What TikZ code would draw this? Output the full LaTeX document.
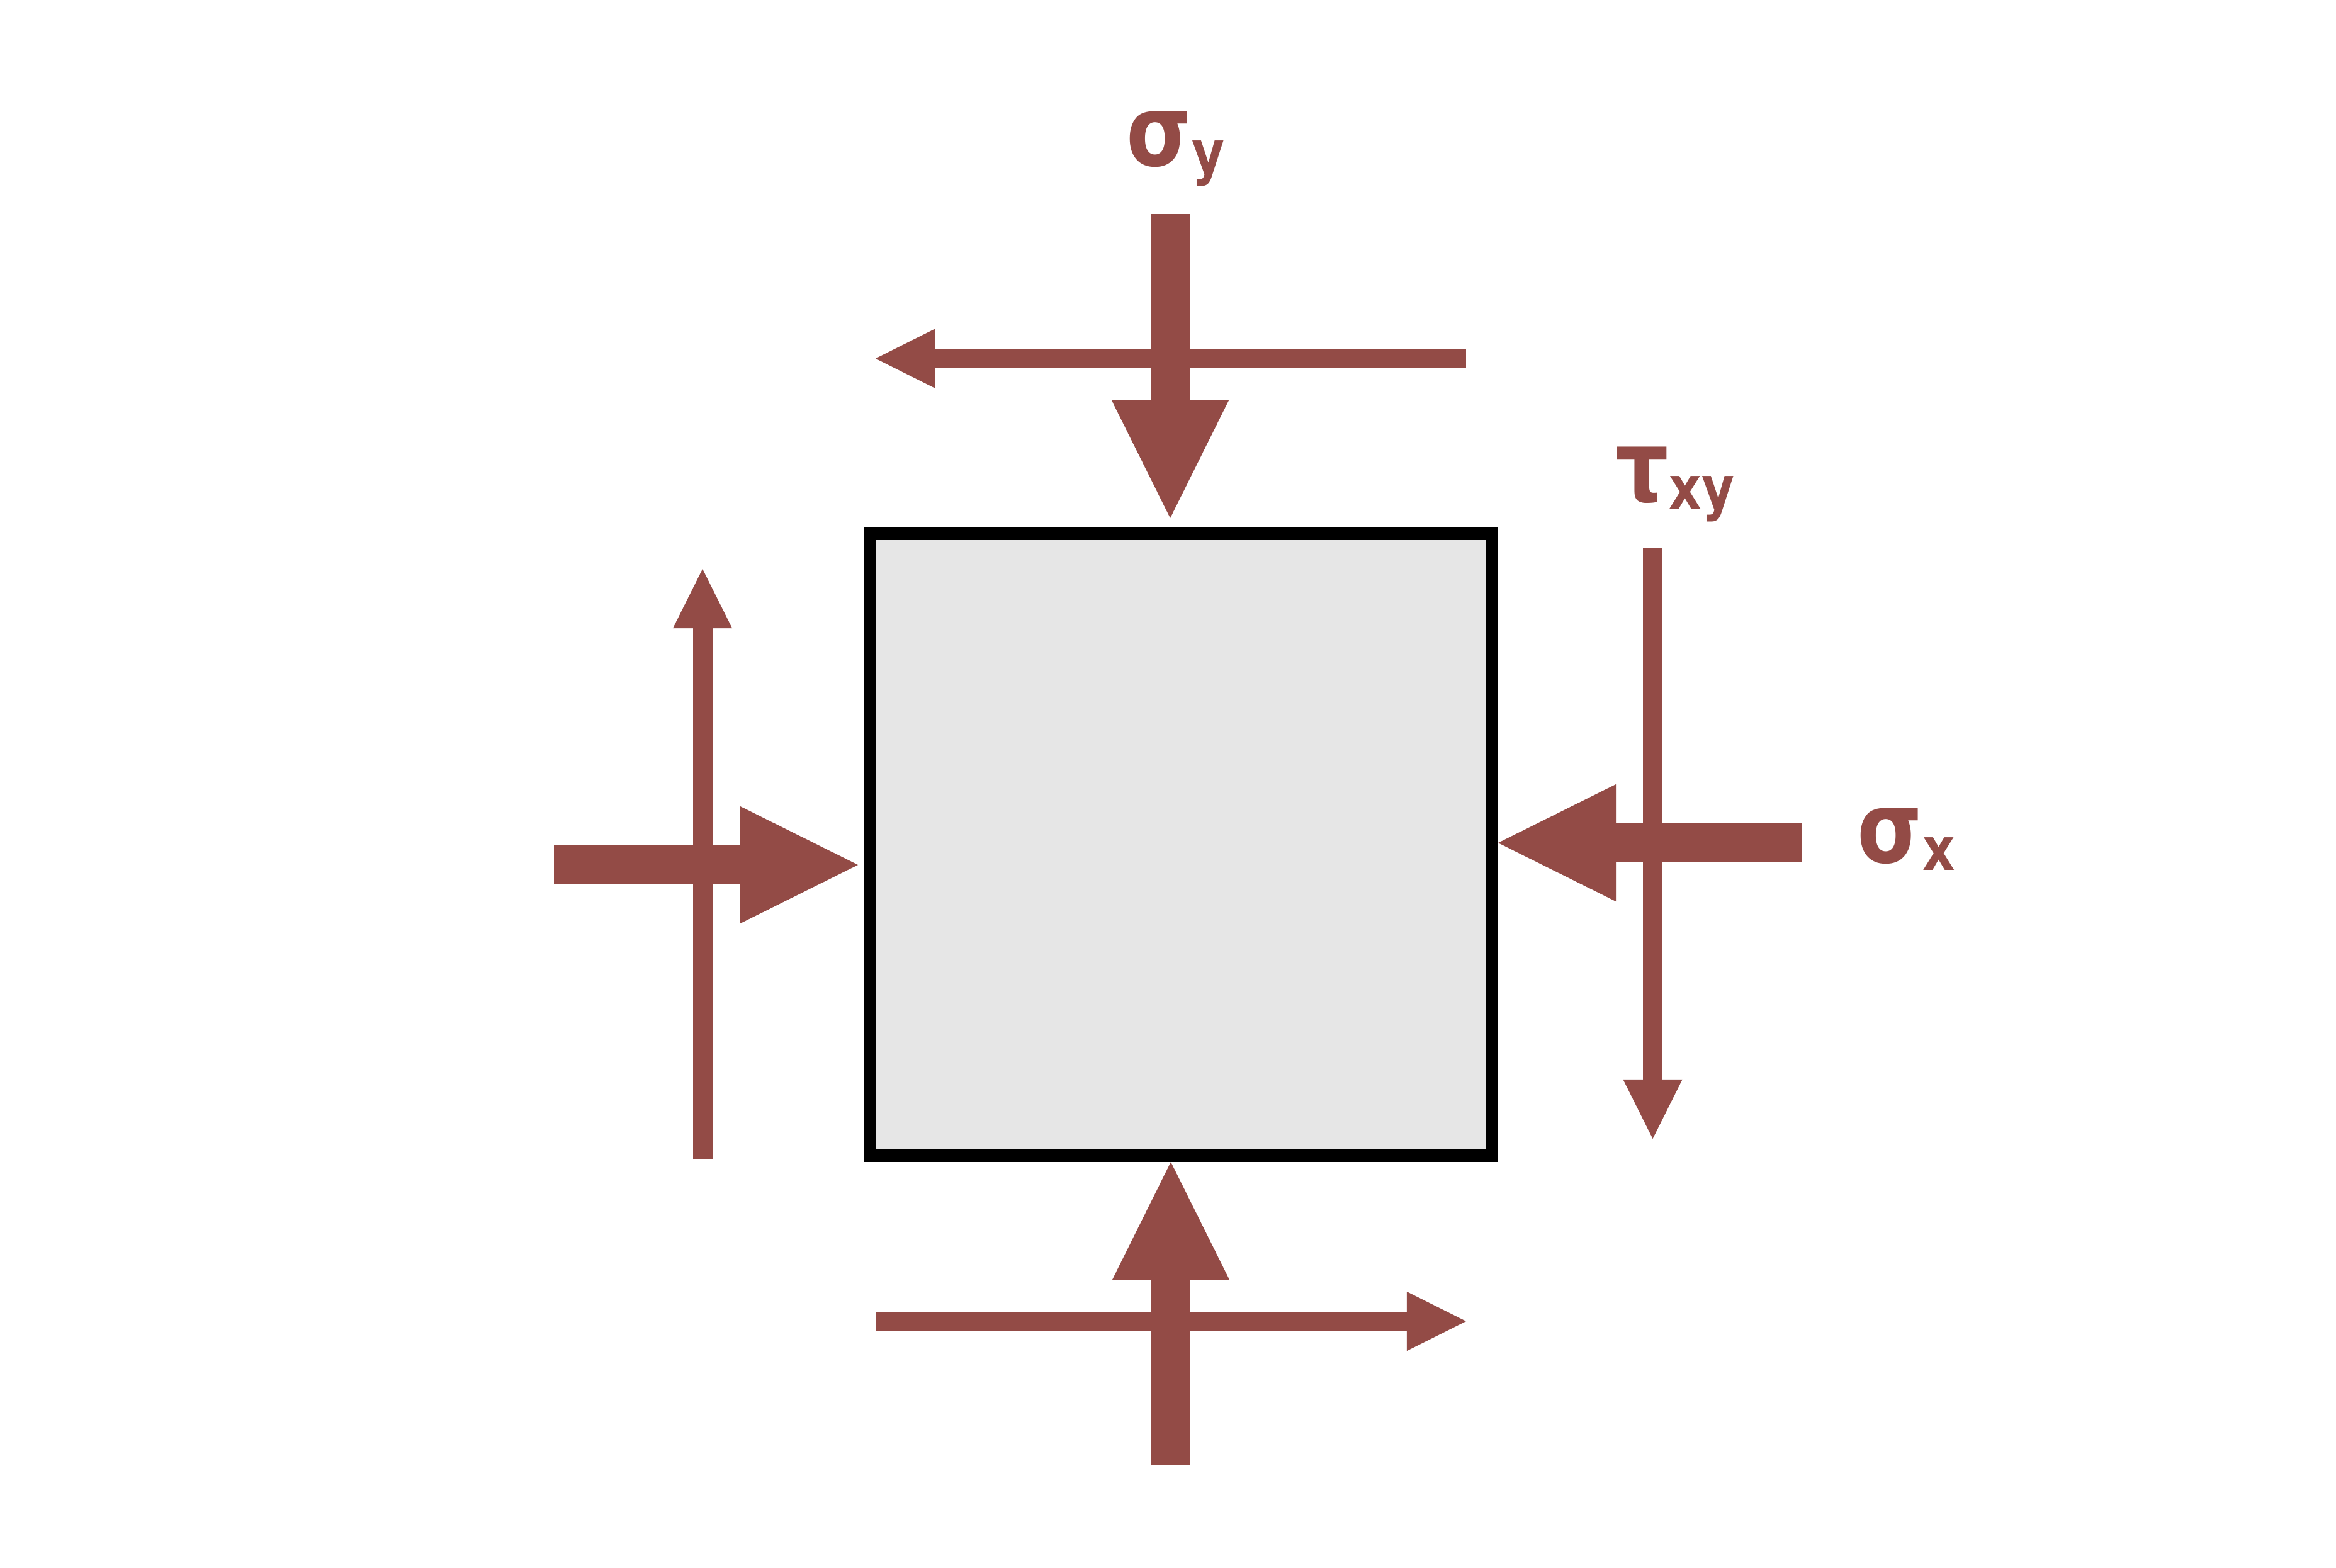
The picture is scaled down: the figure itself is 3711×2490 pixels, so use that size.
\documentclass[tikz,border=0pt]{standalone}
\usepackage{fontspec}
\setmainfont{DejaVu Sans}
\newfontfamily\lblfont{DejaVu Sans}[FakeStretch=0.84]
\usetikzlibrary{arrows.meta}
\definecolor{stressred}{RGB}{147,75,70}
\definecolor{elemgray}{RGB}{230,230,230}

\begin{document}
\begin{tikzpicture}[x=0.01cm,y=-0.01cm,
    normal/.style={draw=stressred,line width=0.62cm,-{Triangle[length=1.87cm,width=1.86cm,line width=0pt]}},
    shear/.style={draw=stressred,line width=0.31cm,-{Triangle[length=0.94cm,width=0.94cm,line width=0pt]}},
    lbl/.style={text=stressred,anchor=base west,inner sep=0pt,font=\lblfont\bfseries}]
   \useasboundingbox (0,0) rectangle (3711,2490);
   % stress element
   \filldraw[fill=elemgray,draw=black,line width=0.2cm] (1382,848) rectangle (2370,1836);
   % normal stresses
   \coordinate (ntop) at (1859,340);   \coordinate (ntoptip) at (1859,823);
   \coordinate (nbot) at (1860,2328);  \coordinate (nbottip) at (1860,1846);
   \coordinate (nleft) at (880,1374);  \coordinate (nlefttip) at (1363,1374);
   \coordinate (nright) at (2862,1339);\coordinate (nrighttip) at (2380,1339);
   \draw[normal] (ntop) -- (ntoptip);
   \draw[normal] (nbot) -- (nbottip);
   \draw[normal] (nleft) -- (nlefttip);
   \draw[normal] (nright) -- (nrighttip);
   % shear stresses
   \coordinate (stop) at (2329,569.5);   \coordinate (stoptip) at (1391,569.5);
   \coordinate (sbot) at (1391,2099);    \coordinate (sbottip) at (2329,2099);
   \coordinate (sleft) at (1116,1842);   \coordinate (slefttip) at (1116,904);
   \coordinate (sright) at (2625.5,871); \coordinate (srighttip) at (2625.5,1809);
   \draw[shear] (stop) -- (stoptip);
   \draw[shear] (sbot) -- (sbottip);
   \draw[shear] (sleft) -- (slefttip);
   \draw[shear] (sright) -- (srighttip);
   % labels
   \node[lbl] (sigy) at (1789,263) {\fontsize{45pt}{50pt}\selectfont σ\raisebox{-3.5pt}{\fontsize{27pt}{30pt}\selectfont y}};
   \node[lbl] (tauxy) at (2566,796) {\fontsize{45pt}{50pt}\selectfont τ\raisebox{-3.5pt}{\fontsize{27pt}{30pt}\selectfont xy}};
   \node[lbl] (sigx) at (2950,1370) {\fontsize{45pt}{50pt}\selectfont σ\raisebox{-3.5pt}{\fontsize{27pt}{30pt}\selectfont x}};
\end{tikzpicture}
\end{document}
